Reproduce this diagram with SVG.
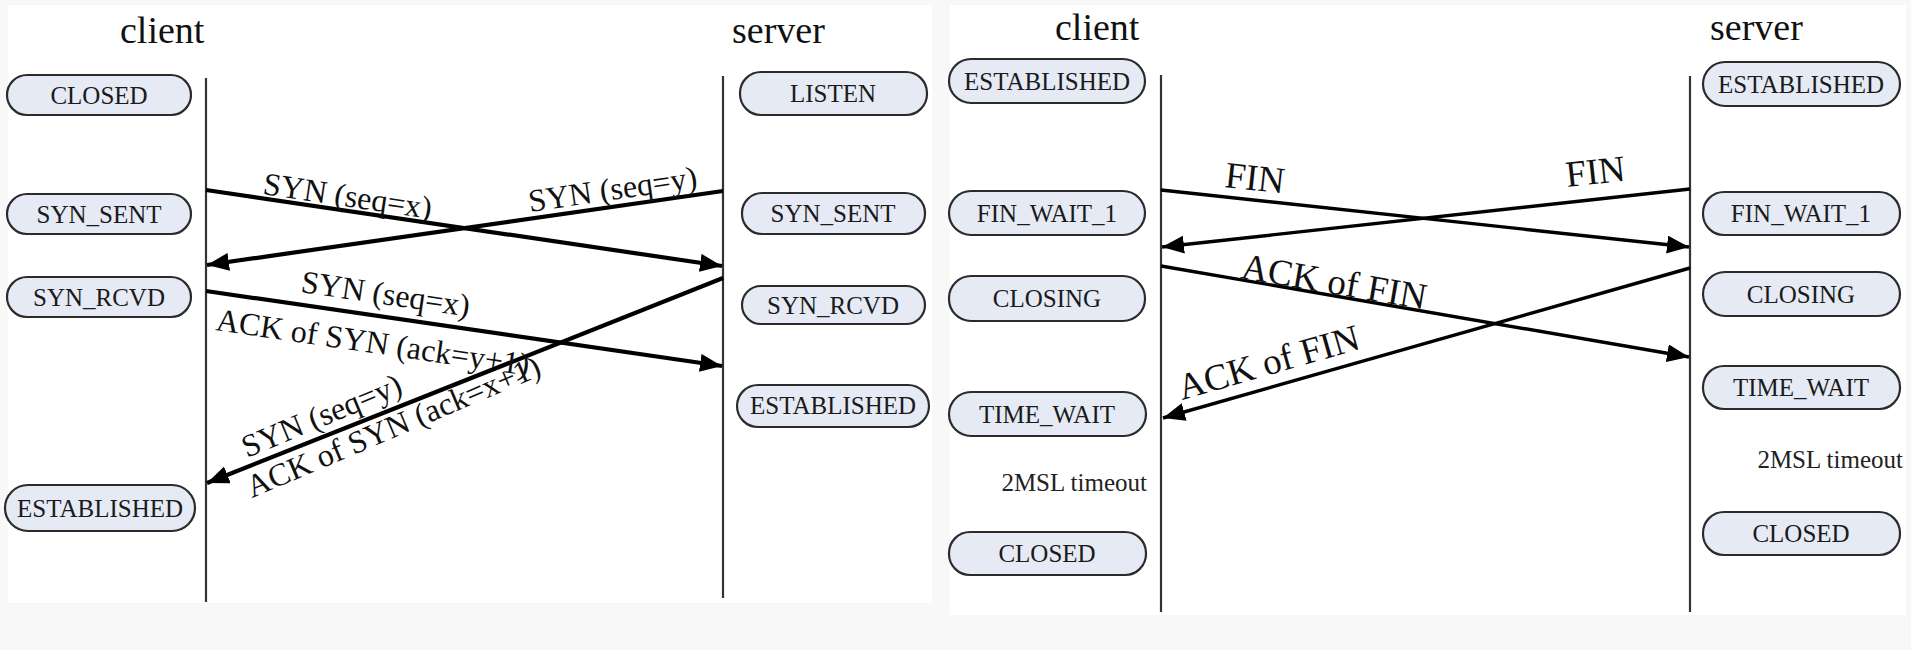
<svg xmlns="http://www.w3.org/2000/svg" width="1911" height="650" viewBox="0 0 1911 650">
<defs>
<style>
.bg{fill:#f8f8f8}
.panel{fill:#ffffff}
.node rect{fill:#e5eaf5;stroke:#2b2b2b;stroke-width:2.2}
.node text{font-family:"Liberation Serif",serif;font-size:25px;fill:#1a1a1a;text-anchor:middle}
.title{font-family:"Liberation Serif",serif;font-size:38px;fill:#111}
.note{font-family:"Liberation Serif",serif;font-size:25px;fill:#222;text-anchor:end}
.life{stroke:#333;stroke-width:2.2;fill:none}
.msg{stroke:#000;stroke-width:4.2;fill:none;marker-end:url(#ah)}
.msg2{stroke:#000;stroke-width:3.4;fill:none;marker-end:url(#ah)}
.lbl{font-family:"Liberation Serif",serif;font-size:32px;fill:#111}
.lbl2{font-family:"Liberation Serif",serif;font-size:37px;fill:#111}
</style>
<marker id="ah" markerUnits="userSpaceOnUse" markerWidth="24" markerHeight="20" refX="22" refY="9" orient="auto">
<path d="M0,0 L22,9 L0,18 Z" fill="#000"/>
</marker>
</defs>
<rect class="bg" x="0" y="0" width="1911" height="650"/>
<rect class="panel" x="8" y="5" width="924" height="598"/>
<rect class="panel" x="950" y="5" width="956" height="610"/>

<text class="title" x="120" y="43">client</text>
<text class="title" x="732" y="43">server</text>
<text class="title" x="1055" y="40">client</text>
<text class="title" x="1710" y="40">server</text>

<g id="lifelines">
<line class="life" x1="206" y1="78" x2="206" y2="602"/>
<line class="life" x1="723" y1="76" x2="723" y2="598"/>
<line class="life" x1="1161" y1="75" x2="1161" y2="612"/>
<line class="life" x1="1690" y1="76" x2="1690" y2="612"/>
</g>

<g id="n-c-closed" class="node"><rect x="7" y="75" width="184" height="40" rx="20"/><text x="99" y="104">CLOSED</text></g>
<g id="n-c-synsent" class="node"><rect x="7" y="194" width="184" height="40" rx="20"/><text x="99" y="223">SYN_SENT</text></g>
<g id="n-c-synrcvd" class="node"><rect x="7" y="277" width="184" height="40" rx="20"/><text x="99" y="306">SYN_RCVD</text></g>
<g id="n-c-established" class="node"><rect x="5" y="485" width="190" height="46" rx="23"/><text x="100" y="517">ESTABLISHED</text></g>

<g id="n-s-listen" class="node"><rect x="740" y="72" width="187" height="43" rx="21"/><text x="833" y="102">LISTEN</text></g>
<g id="n-s-synsent" class="node"><rect x="742" y="193" width="183" height="41" rx="20"/><text x="833" y="222">SYN_SENT</text></g>
<g id="n-s-synrcvd" class="node"><rect x="742" y="286" width="183" height="38" rx="19"/><text x="833" y="314">SYN_RCVD</text></g>
<g id="n-s-established" class="node"><rect x="737" y="385" width="192" height="42" rx="21"/><text x="833" y="414">ESTABLISHED</text></g>

<g id="n-c2-established" class="node"><rect x="949" y="59" width="196" height="44" rx="22"/><text x="1047" y="90">ESTABLISHED</text></g>
<g id="n-c2-finwait1" class="node"><rect x="949" y="191" width="196" height="44" rx="22"/><text x="1047" y="222">FIN_WAIT_1</text></g>
<g id="n-c2-closing" class="node"><rect x="949" y="276" width="196" height="45" rx="22"/><text x="1047" y="307">CLOSING</text></g>
<g id="n-c2-timewait" class="node"><rect x="949" y="392" width="197" height="44" rx="22"/><text x="1047" y="423">TIME_WAIT</text></g>
<text class="note" x="1147" y="491">2MSL timeout</text>
<g id="n-c2-closed" class="node"><rect x="949" y="532" width="197" height="43" rx="21"/><text x="1047" y="562">CLOSED</text></g>

<g id="n-s2-established" class="node"><rect x="1703" y="62" width="197" height="44" rx="22"/><text x="1801" y="93">ESTABLISHED</text></g>
<g id="n-s2-finwait1" class="node"><rect x="1703" y="192" width="197" height="43" rx="21"/><text x="1801" y="222">FIN_WAIT_1</text></g>
<g id="n-s2-closing" class="node"><rect x="1703" y="272" width="197" height="44" rx="22"/><text x="1801" y="303">CLOSING</text></g>
<g id="n-s2-timewait" class="node"><rect x="1703" y="366" width="197" height="43" rx="21"/><text x="1801" y="396">TIME_WAIT</text></g>
<text class="note" x="1903" y="468">2MSL timeout</text>
<g id="n-s2-closed" class="node"><rect x="1703" y="512" width="197" height="43" rx="21"/><text x="1801" y="542">CLOSED</text></g>

<g id="connectors">
<line class="msg" x1="206" y1="190" x2="722" y2="266"/>
<line class="msg" x1="723" y1="191" x2="207" y2="265"/>
<line class="msg" x1="206" y1="291" x2="722" y2="366"/>
<line class="msg" x1="723" y1="278" x2="207" y2="483"/>
<line class="msg2" x1="1161" y1="190" x2="1689" y2="247"/>
<line class="msg2" x1="1690" y1="189" x2="1162" y2="247"/>
<line class="msg2" x1="1161" y1="266" x2="1689" y2="357"/>
<line class="msg2" x1="1690" y1="268" x2="1163" y2="418"/>

<text class="lbl" transform="translate(262,194) rotate(8.4)">SYN (seq=x)</text>
<text class="lbl" transform="translate(530,212) rotate(-8.3)">SYN (seq=y)</text>
<text class="lbl" transform="translate(300,292) rotate(8.3)">SYN (seq=x)</text>
<text class="lbl" transform="translate(215,330) rotate(8.3)">ACK of SYN (ack=y+1)</text>
<text class="lbl" transform="translate(247,458) rotate(-22.5)">SYN (seq=y)</text>
<text class="lbl" transform="translate(252,498) rotate(-23)">ACK of SYN (ack=x+1)</text>

<text class="lbl2" transform="translate(1224,187) rotate(6.2)">FIN</text>
<text class="lbl2" transform="translate(1567,187) rotate(-6.2)">FIN</text>
<text class="lbl2" transform="translate(1240,278) rotate(9.7)">ACK of FIN</text>
<text class="lbl2" transform="translate(1182,400) rotate(-16)">ACK of FIN</text>
</g>
</svg>
